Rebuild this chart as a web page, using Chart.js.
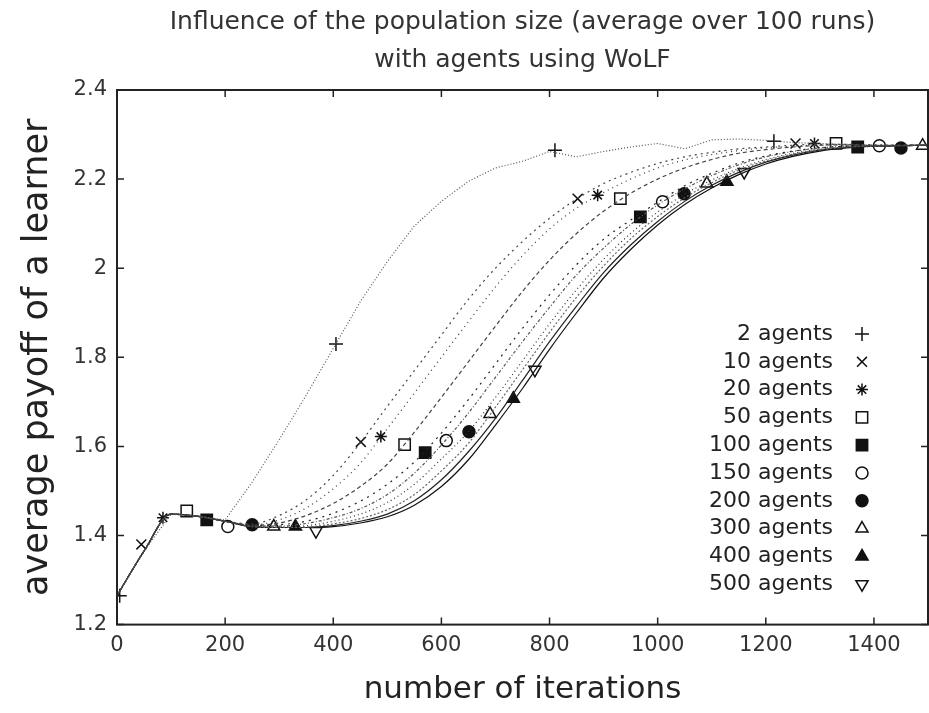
<!DOCTYPE html>
<html lang="en">
<head>
    <meta charset="UTF-8">
    <title>Influence of the population size</title>
    <script src="https://cdn.jsdelivr.net/npm/chart.js"></script>
    <style>
        body { margin: 0; background: #fff; }
    </style>
</head>
<body>
    <canvas id="wolfChart" width="929" height="713"></canvas>

    <script>
        // x values of the curves (iterations)
        const iterations = [0, 50, 100, 150, 200, 250, 300, 350, 400, 450, 500, 550, 600, 650, 700, 750,
            800, 850, 900, 950, 1000, 1050, 1100, 1150, 1200, 1250, 1300, 1350, 1400, 1450, 1500];

        // average payoff, one array per population size
        const agents2 = [1.265, 1.365, 1.448, 1.443, 1.435, 1.52, 1.615, 1.715, 1.82, 1.925, 2.015, 2.095, 2.15, 2.195, 2.225, 2.24,
            2.262, 2.25, 2.262, 2.272, 2.28, 2.268, 2.288, 2.29, 2.287, 2.282, 2.28, 2.278, 2.275, 2.276, 2.278];
        const agents10 = [1.265, 1.365, 1.448, 1.443, 1.432, 1.426, 1.445, 1.48, 1.535, 1.608, 1.69, 1.77, 1.85, 1.93, 2.0, 2.06,
            2.112, 2.155, 2.19, 2.215, 2.235, 2.25, 2.26, 2.268, 2.272, 2.276, 2.278, 2.278, 2.277, 2.276, 2.277];
        const agents20 = [1.265, 1.365, 1.448, 1.443, 1.432, 1.424, 1.435, 1.462, 1.505, 1.562, 1.64, 1.72, 1.8, 1.88, 1.958, 2.028,
            2.088, 2.135, 2.17, 2.2, 2.225, 2.243, 2.255, 2.264, 2.27, 2.274, 2.277, 2.277, 2.276, 2.276, 2.277];
        const agents50 = [1.265, 1.365, 1.448, 1.443, 1.432, 1.423, 1.428, 1.445, 1.472, 1.51, 1.56, 1.632, 1.71, 1.79, 1.87, 1.948,
            2.018, 2.078, 2.128, 2.168, 2.2, 2.225, 2.244, 2.258, 2.266, 2.272, 2.276, 2.277, 2.276, 2.276, 2.277];
        const agents100 = [1.265, 1.365, 1.448, 1.443, 1.432, 1.422, 1.424, 1.432, 1.45, 1.477, 1.515, 1.565, 1.63, 1.705, 1.785, 1.865,
            1.94, 2.008, 2.065, 2.108, 2.148, 2.185, 2.213, 2.236, 2.252, 2.263, 2.27, 2.274, 2.275, 2.275, 2.276];
        const agents150 = [1.265, 1.365, 1.448, 1.443, 1.432, 1.421, 1.421, 1.427, 1.44, 1.46, 1.492, 1.54, 1.603, 1.675, 1.755, 1.835,
            1.912, 1.985, 2.045, 2.098, 2.142, 2.178, 2.208, 2.232, 2.25, 2.262, 2.27, 2.274, 2.275, 2.275, 2.276];
        const agents200 = [1.265, 1.365, 1.448, 1.443, 1.432, 1.42, 1.419, 1.422, 1.432, 1.448, 1.474, 1.515, 1.572, 1.633, 1.71, 1.792,
            1.875, 1.952, 2.02, 2.078, 2.126, 2.166, 2.198, 2.224, 2.244, 2.258, 2.267, 2.272, 2.274, 2.275, 2.276];
        const agents300 = [1.265, 1.365, 1.448, 1.443, 1.432, 1.42, 1.418, 1.419, 1.426, 1.438, 1.458, 1.492, 1.545, 1.607, 1.688, 1.772,
            1.856, 1.935, 2.005, 2.066, 2.116, 2.158, 2.192, 2.22, 2.241, 2.256, 2.266, 2.272, 2.274, 2.275, 2.276];
        const agents400 = [1.265, 1.365, 1.448, 1.443, 1.432, 1.42, 1.418, 1.418, 1.422, 1.432, 1.448, 1.478, 1.525, 1.588, 1.663, 1.748,
            1.835, 1.915, 1.99, 2.052, 2.105, 2.15, 2.186, 2.215, 2.238, 2.254, 2.265, 2.271, 2.274, 2.275, 2.276];
        const agents500 = [1.265, 1.365, 1.448, 1.443, 1.432, 1.42, 1.418, 1.418, 1.42, 1.428, 1.442, 1.468, 1.51, 1.57, 1.648, 1.73,
            1.818, 1.9, 1.978, 2.042, 2.097, 2.143, 2.18, 2.21, 2.234, 2.251, 2.263, 2.27, 2.274, 2.275, 2.276];

        // where the point symbols sit on each curve: [iteration, payoff]
        const marks2 = [[5, 1.265], [405, 1.83], [810, 2.265], [1215, 2.285]];
        const marks10 = [[45, 1.38], [451, 1.61], [852, 2.156], [1255, 2.28]];
        const marks20 = [[85, 1.44], [488, 1.622], [889, 2.164], [1290, 2.28]];
        const marks50 = [[129, 1.455], [532, 1.604], [931, 2.156], [1330, 2.28]];
        const marks100 = [[166, 1.435], [570, 1.586], [968, 2.115], [1370, 2.272]];
        const marks150 = [[205, 1.42], [609, 1.613], [1009, 2.149], [1410, 2.275]];
        const marks200 = [[250, 1.424], [651, 1.633], [1049, 2.167], [1450, 2.27]];
        const marks300 = [[290, 1.42], [690, 1.673], [1091, 2.19], [1490, 2.275]];
        const marks400 = [[330, 1.42], [733, 1.707], [1128, 2.194]];
        const marks500 = [[368, 1.41], [773, 1.772], [1160, 2.216]];

        const seriesLabels = ['2 agents', '10 agents', '20 agents', '50 agents', '100 agents',
            '150 agents', '200 agents', '300 agents', '400 agents', '500 agents'];
        const xTicks = [0, 200, 400, 600, 800, 1000, 1200, 1400];
        const yTicks = [1.2, 1.4, 1.6, 1.8, 2, 2.2, 2.4];

        const curves = [agents2, agents10, agents20, agents50, agents100, agents150, agents200, agents300, agents400, agents500];
        const marks = [marks2, marks10, marks20, marks50, marks100, marks150, marks200, marks300, marks400, marks500];

        // look of each series (gnuplot style, monochrome)
        const styles = [
            { color: '#555', dash: [1, 2], point: 'cross', fill: false, r: 7, rot: 0 },
            { color: '#444', dash: [2, 4], point: 'crossRot', fill: false, r: 7, rot: 0 },
            { color: '#333', dash: [1, 4], point: 'star', fill: false, r: 6, rot: 0 },
            { color: '#444', dash: [4, 3], point: 'rect', fill: false, r: 8, rot: 0 },
            { color: '#222', dash: [2, 5], point: 'rect', fill: true, r: 8, rot: 0 },
            { color: '#555', dash: [3, 2, 1, 2], point: 'circle', fill: false, r: 6, rot: 0 },
            { color: '#333', dash: [1, 3], point: 'circle', fill: true, r: 6, rot: 0 },
            { color: '#666', dash: [2, 2], point: 'triangle', fill: false, r: 7, rot: 0 },
            { color: '#222', dash: [], point: 'triangle', fill: true, r: 7, rot: 0 },
            { color: '#111', dash: [], point: 'triangle', fill: false, r: 7, rot: 180 }
        ];

        const datasets = [];
        curves.forEach((ys, i) => {
            datasets.push({
                label: seriesLabels[i],
                data: iterations.map((x, k) => ({ x: x, y: ys[k] })),
                borderColor: styles[i].color,
                borderWidth: 1.2,
                borderDash: styles[i].dash,
                pointRadius: 0,
                fill: false,
                cubicInterpolationMode: i === 0 ? 'default' : 'monotone',
                tension: 0
            });
        });
        marks.forEach((pts, i) => {
            datasets.push({
                label: seriesLabels[i] + ' marks',
                type: 'scatter',
                data: pts.map(p => ({ x: p[0], y: p[1] })),
                showLine: false,
                pointStyle: styles[i].point,
                pointRadius: styles[i].r,
                pointRotation: styles[i].rot,
                pointBorderWidth: 1.5,
                pointBorderColor: '#111',
                pointBackgroundColor: styles[i].fill ? '#111' : '#fff'
            });
        });

        const fontFamily = '"DejaVu Sans", sans-serif';

        // box, inward mirrored ticks and the key inside the plot
        const framePlugin = {
            id: 'framePlugin',
            afterDraw(chart) {
                const ctx = chart.ctx;
                const a = chart.chartArea;
                const xs = chart.scales.x;
                const ys = chart.scales.y;
                ctx.save();
                ctx.strokeStyle = '#222';
                ctx.lineWidth = 2;
                ctx.strokeRect(a.left, a.top, a.right - a.left, a.bottom - a.top);
                ctx.lineWidth = 1.5;
                ctx.beginPath();
                xTicks.forEach(v => {
                    const px = xs.getPixelForValue(v);
                    ctx.moveTo(px, a.bottom); ctx.lineTo(px, a.bottom - 7);
                    ctx.moveTo(px, a.top); ctx.lineTo(px, a.top + 7);
                });
                yTicks.forEach(v => {
                    const py = ys.getPixelForValue(v);
                    ctx.moveTo(a.left, py); ctx.lineTo(a.left + 7, py);
                    ctx.moveTo(a.right, py); ctx.lineTo(a.right - 7, py);
                });
                ctx.stroke();

                // key
                const textRight = a.right - 95;
                const symX = a.right - 66;
                let rowY = a.top + 244;
                ctx.font = '22px ' + fontFamily;
                ctx.textAlign = 'right';
                ctx.textBaseline = 'middle';
                seriesLabels.forEach((lab, i) => {
                    ctx.fillStyle = '#222';
                    ctx.fillText(lab, textRight, rowY);
                    const st = styles[i];
                    ctx.strokeStyle = '#111';
                    ctx.fillStyle = st.fill ? '#111' : '#fff';
                    ctx.lineWidth = 1.5;
                    Chart.helpers.drawPoint(ctx, {
                        pointStyle: st.point, radius: st.r, rotation: st.rot, borderWidth: 1.5
                    }, symX, rowY);
                    rowY += 27.8;
                });
                ctx.restore();
            }
        };

        new Chart(document.getElementById('wolfChart'), {
            type: 'line',
            data: { datasets: datasets },
            plugins: [framePlugin],
            options: {
                responsive: false,
                animation: false,
                layout: { autoPadding: false, padding: { left: 17, right: 1, top: 0, bottom: 4 } },
                plugins: {
                    legend: { display: false },
                    tooltip: { enabled: false },
                    title: {
                        display: true,
                        fullSize: false,
                        text: ['Influence of the population size (average over 100 runs)', 'with agents using WoLF'],
                        color: '#333',
                        font: { family: fontFamily, size: 25, weight: 'normal', lineHeight: 1.52 },
                        padding: { top: 3, bottom: 11 }
                    }
                },
                scales: {
                    x: {
                        type: 'linear',
                        min: 0,
                        max: 1500,
                        afterBuildTicks: scale => { scale.ticks = xTicks.map(v => ({ value: v })); },
                        afterFit: scale => { scale.paddingLeft = 0; scale.paddingRight = 0; },
                        ticks: {
                            color: '#333',
                            padding: 8,
                            maxRotation: 0,
                            font: { family: fontFamily, size: 21 },
                            callback: v => String(v)
                        },
                        grid: { display: false, drawTicks: false },
                        border: { display: false },
                        title: {
                            display: true,
                            text: 'number of iterations',
                            color: '#222',
                            font: { family: fontFamily, size: 31 },
                            padding: { top: 6, bottom: 0 }
                        }
                    },
                    y: {
                        min: 1.2,
                        max: 2.4,
                        afterBuildTicks: scale => { scale.ticks = yTicks.map(v => ({ value: v })); },
                        afterFit: scale => { scale.width = 100; },
                        ticks: {
                            color: '#333',
                            padding: 10,
                            font: { family: fontFamily, size: 21 },
                            callback: v => String(+v.toFixed(1))
                        },
                        grid: { display: false, drawTicks: false },
                        border: { display: false },
                        title: {
                            display: true,
                            text: 'average payoff of a learner',
                            color: '#222',
                            font: { family: fontFamily, size: 35 },
                            padding: { top: 0, bottom: 8 }
                        }
                    }
                }
            }
        });
    </script>
</body>
</html>
